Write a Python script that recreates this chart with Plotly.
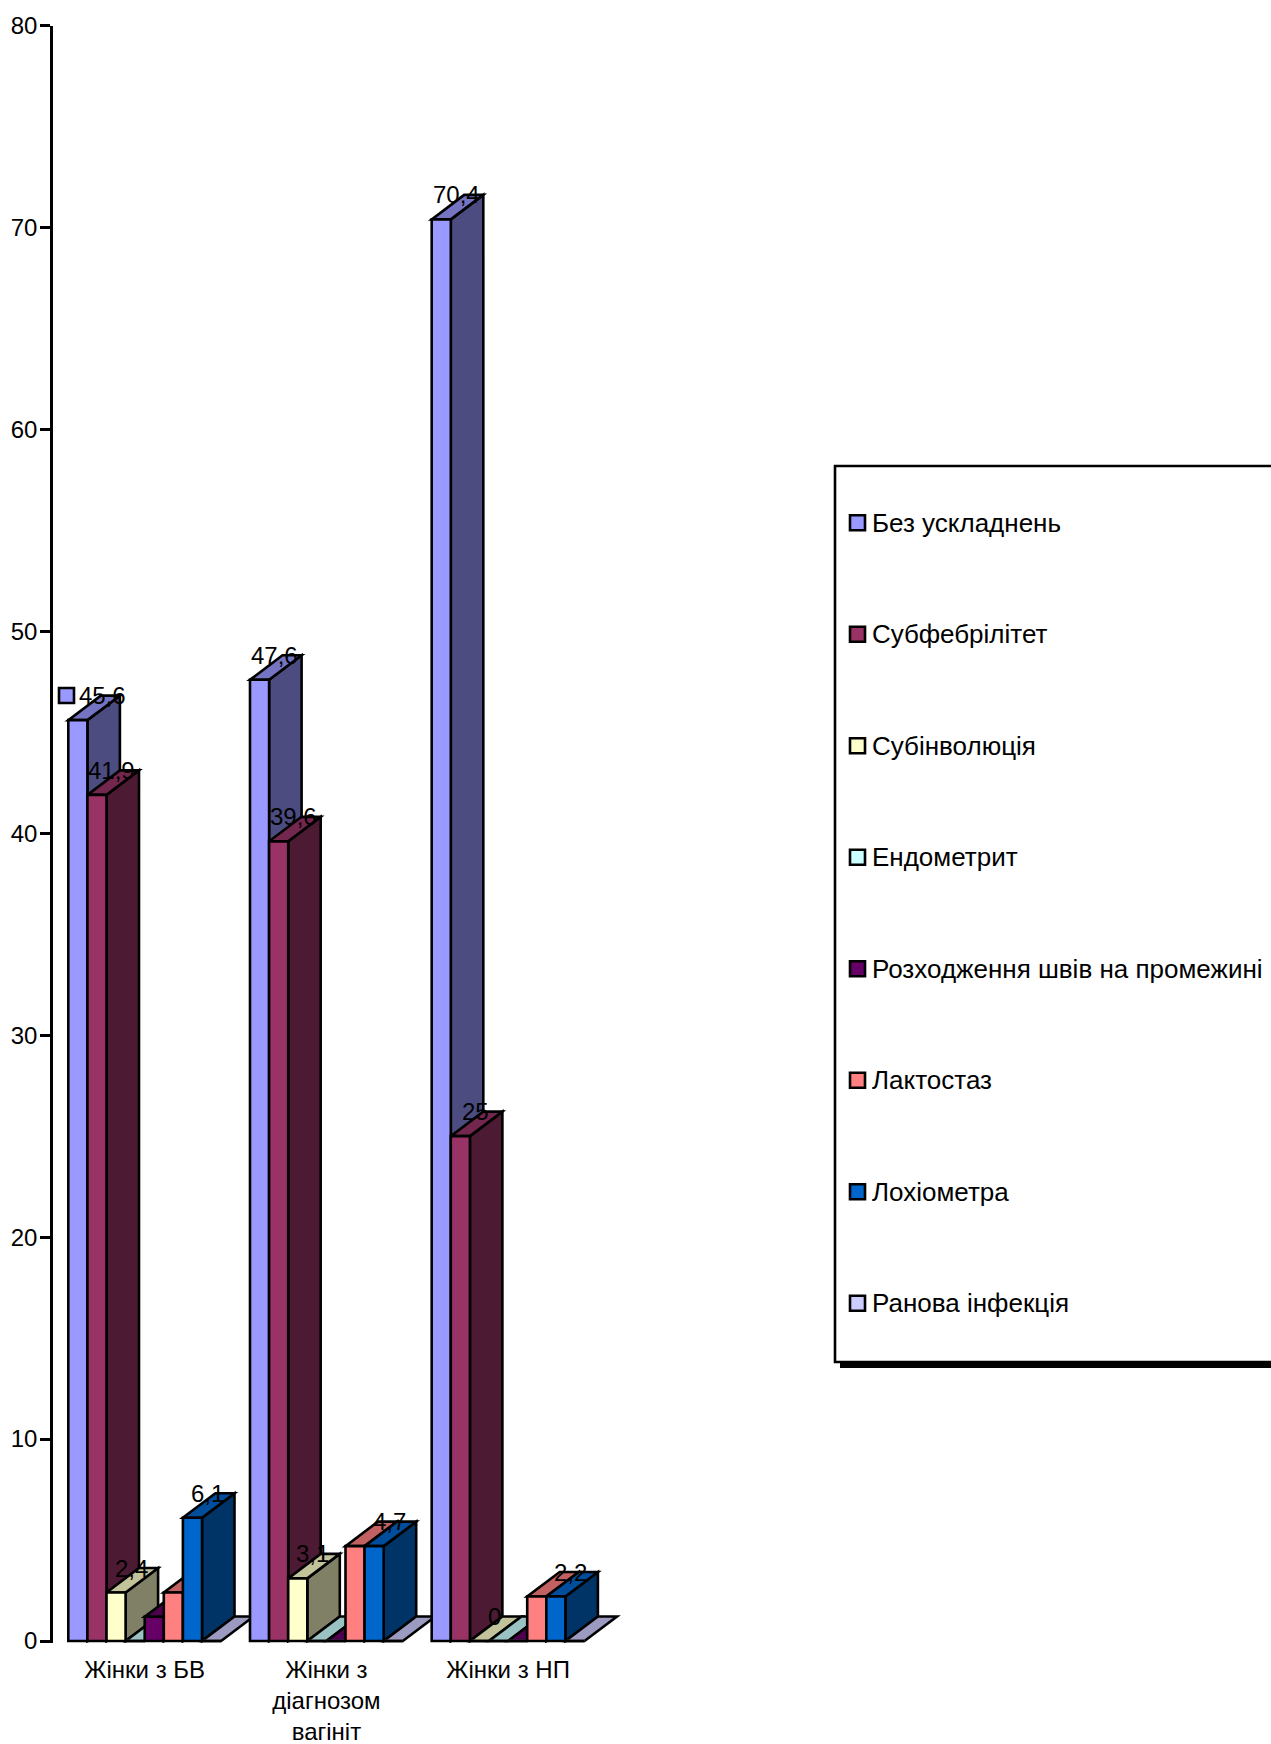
import plotly.graph_objects as go

# Chart data
categories = ["Жінки з БВ", "Жінки з<br>діагнозом<br>вагініт", "Жінки з НП"]
series_names = [
    "Без ускладнень",
    "Субфебрілітет",
    "Субінволюція",
    "Ендометрит",
    "Розходження швів на промежині",
    "Лактостаз",
    "Лохіометра",
    "Ранова інфекція",
]
bez_uskladnen = [45.6, 47.6, 70.4]
subfebrilitet = [41.9, 39.6, 25]
subinvolutsiya = [2.4, 3.1, 0]
endometryt = [0, 0, 0]
rozkhodzhennya = [1.2, 0, 0]
laktostaz = [2.4, 4.7, 2.2]
lokhiometra = [6.1, 4.7, 2.2]
ranova = [0, 0, 0]
series_values = [bez_uskladnen, subfebrilitet, subinvolutsiya, endometryt,
                 rozkhodzhennya, laktostaz, lokhiometra, ranova]
front_colors = ["#9999FF", "#993366", "#FFFFCC", "#CCFFFF",
                "#660066", "#FF8080", "#0066CC", "#CCCCFF"]
labelled_series = [True, True, True, False, False, False, True, False]
y_ticks = [0, 10, 20, 30, 40, 50, 60, 70, 80]

# Page and plot geometry, in pixels
W, H = 1271, 1744
AXIS_LEFT = 53
Y0_PX, Y80_PX = 1641.0, 25.5
GROUP_STEP = 181.7
FIRST_CENTRE = 144.7
BAR_PX = 19.1
DEPTH_X_PX, DEPTH_Y_PX = 32.5, 24.5
FONT = "Liberation Sans, Arial, sans-serif"
FONT_SIZE = 24
LEGEND_FONT_SIZE = 26
EDGE = 2.6

px_per_unit = (Y0_PX - Y80_PX) / 80
bar_w = BAR_PX / GROUP_STEP
dx = DEPTH_X_PX / GROUP_STEP
dy = DEPTH_Y_PX / px_per_unit
y_floor = -0.1


def shade(color, k):
    r, g, b = (int(color[i:i + 2], 16) for i in (1, 3, 5))
    return f"rgb({round(r * k)},{round(g * k)},{round(b * k)})"


def polygon(points):
    return "M " + " L ".join(f"{x:.4f},{y:.4f}" for x, y in points) + " Z"


def paper_x(x):
    return x / W


def paper_y(y):
    return 1 - y / H


fig = go.Figure()
shapes = []
annotations = []
n = len(series_names)

# Side and top faces sit beneath the front faces, painted left to right
for s, (name, vals, col) in enumerate(zip(series_names, series_values, front_colors)):
    for g, v in enumerate(vals):
        x0 = g - n * bar_w / 2 + s * bar_w
        x1 = x0 + bar_w
        if v > 0:
            shapes.append(dict(
                type="path", xref="x", yref="y", layer="below",
                path=polygon([(x1, 0), (x1 + dx, dy), (x1 + dx, v + dy), (x1, v)]),
                fillcolor=shade(col, 0.5), line=dict(color="black", width=EDGE),
            ))
        shapes.append(dict(
            type="path", xref="x", yref="y", layer="below",
            path=polygon([(x0, v), (x1, v), (x1 + dx, v + dy), (x0 + dx, v + dy)]),
            fillcolor=shade(col, 0.76), line=dict(color="black", width=EDGE),
        ))
        if v == 0:
            shapes.append(dict(
                type="line", xref="x", yref="y", layer="below",
                x0=x0, x1=x1, y0=0, y1=0,
                line=dict(color="#808080", width=2.5),
            ))

# Front faces
for name, vals, col in zip(series_names, series_values, front_colors):
    fig.add_trace(go.Bar(
        x=list(range(len(categories))), y=vals, name=name,
        marker=dict(color=col, line=dict(color="black", width=EDGE)),
        cliponaxis=False, showlegend=False,
    ))

# Value labels
for s, (vals, show) in enumerate(zip(series_values, labelled_series)):
    if not show:
        continue
    for g, v in enumerate(vals):
        centre = g - n * bar_w / 2 + (s + 0.5) * bar_w
        annotations.append(dict(
            x=centre, y=v, xref="x", yref="y", showarrow=False,
            text=str(v).replace(".", ","),
            xshift=25 if s == 0 and g == 0 else 15, yshift=DEPTH_Y_PX,
            xanchor="center", yanchor="middle",
            font=dict(family=FONT, size=FONT_SIZE, color="black"),
        ))

# Legend key printed beside the first value label
shapes.append(dict(
    type="rect", xref="paper", yref="paper",
    x0=paper_x(59), x1=paper_x(74), y0=paper_y(703), y1=paper_y(688),
    fillcolor=front_colors[0], line=dict(color="black", width=EDGE),
))

# Legend frame with its drop shadow, running off the right edge
shapes.append(dict(
    type="rect", xref="paper", yref="paper",
    x0=paper_x(840), x1=paper_x(W + 20), y0=paper_y(1368), y1=paper_y(471),
    fillcolor="black", line=dict(width=0),
))
shapes.append(dict(
    type="rect", xref="paper", yref="paper",
    x0=paper_x(835), x1=paper_x(W + 20), y0=paper_y(1362), y1=paper_y(466),
    fillcolor="white", line=dict(color="black", width=EDGE),
))
LEGEND_FIRST_Y, LEGEND_STEP = 522.7, 111.5
for i, (name, col) in enumerate(zip(series_names, front_colors)):
    yc = LEGEND_FIRST_Y + i * LEGEND_STEP
    shapes.append(dict(
        type="rect", xref="paper", yref="paper",
        x0=paper_x(850), x1=paper_x(865), y0=paper_y(yc + 7.5), y1=paper_y(yc - 7.5),
        fillcolor=col, line=dict(color="black", width=EDGE),
    ))
    annotations.append(dict(
        x=paper_x(870), y=paper_y(yc), xref="paper", yref="paper", showarrow=False,
        text=name, xanchor="left", yanchor="middle",
        font=dict(family=FONT, size=LEGEND_FONT_SIZE, color="black"),
    ))

fig.update_layout(
    width=W, height=H, autosize=False,
    margin=dict(l=0, r=0, t=0, b=0, pad=0),
    paper_bgcolor="white", plot_bgcolor="rgba(0,0,0,0)",
    barmode="group", bargap=1 - n * bar_w, bargroupgap=0,
    shapes=shapes, annotations=annotations, showlegend=False,
    font=dict(family=FONT, size=FONT_SIZE, color="black"),
    xaxis=dict(
        domain=[AXIS_LEFT / W, 1],
        range=[(AXIS_LEFT - FIRST_CENTRE) / GROUP_STEP, (W - FIRST_CENTRE) / GROUP_STEP],
        tickmode="array", tickvals=list(range(len(categories))), ticktext=categories,
        showgrid=False, zeroline=False, showline=False, ticks="",
        ticklabelstandoff=10, automargin=False,
        tickfont=dict(family=FONT, size=FONT_SIZE, color="black"),
    ),
    yaxis=dict(
        domain=[(H - Y0_PX + y_floor * px_per_unit) / H, (H - Y80_PX) / H],
        range=[y_floor, 80],
        tickmode="array", tickvals=y_ticks,
        showgrid=False, zeroline=False, showline=True, linecolor="black", linewidth=EDGE,
        ticks="outside", ticklen=10, tickwidth=EDGE, tickcolor="black", automargin=False,
        ticklabelstandoff=-2,
        tickfont=dict(family=FONT, size=FONT_SIZE, color="black"),
    ),
)

fig.write_html("out.html")
